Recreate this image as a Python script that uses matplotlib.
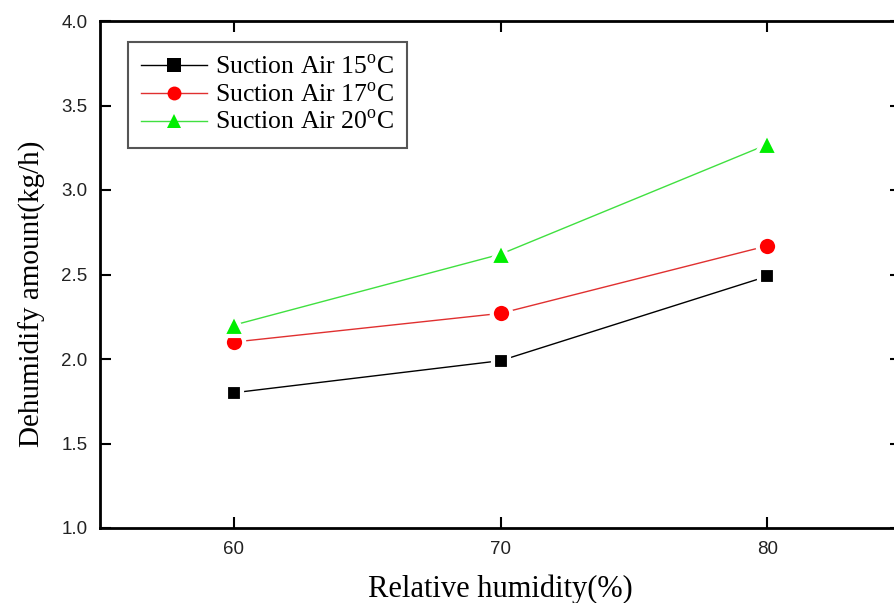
import matplotlib
matplotlib.use("Agg")
import matplotlib.pyplot as plt

humidity = [60, 70, 80]
air_15 = [1.80, 1.99, 2.49]
air_17 = [2.10, 2.27, 2.67]
air_20 = [2.20, 2.62, 3.27]
labels = [r"Suction Air 15$^\mathrm{o}$C",
          r"Suction Air 17$^\mathrm{o}$C",
          r"Suction Air 20$^\mathrm{o}$C"]

plt.rcParams['mathtext.fontset'] = 'custom'
plt.rcParams['mathtext.rm'] = 'Liberation Serif'

fig = plt.figure(figsize=(8.94, 6.03), dpi=100)
ax = fig.add_axes([100 / 894, 75 / 603, 801 / 894, 507 / 603])

serif = 'Liberation Serif'
sans = 'Liberation Sans'

ax.plot(humidity, air_15, '-', color='black', lw=1.0, marker='s', ms=12,
        mfc='black', mec='white', mew=3, label=labels[0])
ax.plot(humidity, air_17, '-', color='#e03030', lw=1.0, marker='o', ms=14,
        mfc='red', mec='white', mew=3, label=labels[1])
ax.plot(humidity, air_20, '-', color='#40e040', lw=1.0, marker='^', ms=16,
        mfc='#00ee00', mec='white', mew=3, label=labels[2])

ax.set_xlim(55, 85)
ax.set_ylim(1.0, 4.0)
ax.set_xticks(humidity)
ax.set_yticks([1.0, 1.5, 2.0, 2.5, 3.0, 3.5, 4.0])
ax.set_yticklabels(['1.0', '1.5', '2.0', '2.5', '3.0', '3.5', '4.0'])

ax.tick_params(direction='in', length=8, width=1.5, top=True, right=True,
               labelsize=13.5, pad=9, labelcolor='#222222')
for lab in ax.get_xticklabels() + ax.get_yticklabels():
    lab.set_fontfamily(sans)
for sp in ax.spines.values():
    sp.set_linewidth(2)

ax.set_xlabel("Relative humidity(%)", fontfamily=serif, fontsize=22, labelpad=12)
ax.set_ylabel("Dehumidify amount(kg/h)", fontfamily=serif, fontsize=21)
ax.yaxis.set_label_coords(-0.068, 0.4615)

leg = ax.legend(loc='upper left', bbox_to_anchor=(0.035, 0.9586), frameon=True,
                fancybox=False, edgecolor='#555555', framealpha=1,
                prop={'family': serif, 'size': 18.5}, handlelength=2.55,
                labelspacing=0.14, borderpad=0.52, handletextpad=0.3,
                borderaxespad=0)
leg.get_frame().set_linewidth(1.5)
for h in leg.legend_handles:
    h.set_markeredgecolor('none')
    h.set_markersize(10)

fig.savefig("out.png", dpi=100)
